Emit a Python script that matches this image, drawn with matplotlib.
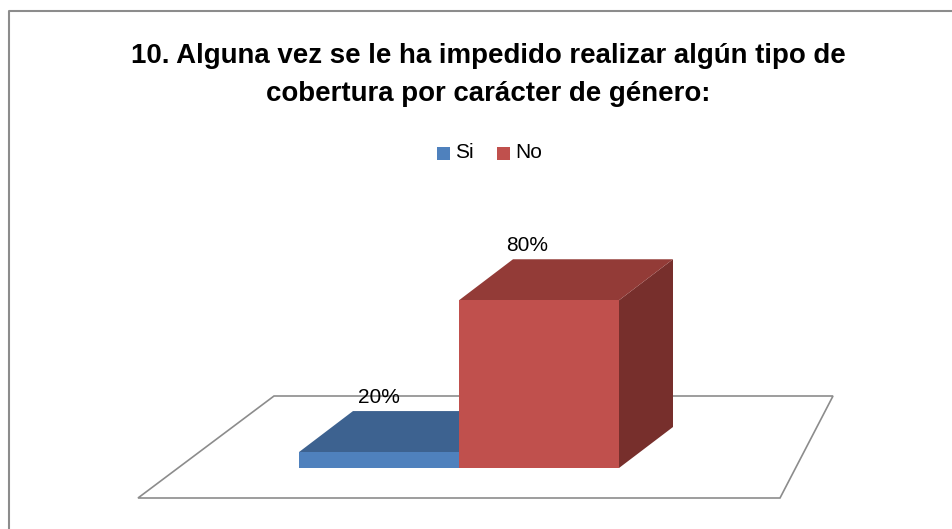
import matplotlib.pyplot as plt
from matplotlib.patches import Polygon

plt.rcParams['font.family'] = ['Liberation Sans', 'DejaVu Sans']

# Data
categories = ['Si', 'No']
values = [20, 80]
labels = ['20%', '80%']
front_colors = ['#4F81BD', '#C0504D']
top_colors = ['#3D6290', '#933B37']
side_colors = ['#30507A', '#772F2C']
title = '10. Alguna vez se le ha impedido realizar algún tipo de\ncobertura por carácter de género:'

W, H = 953, 529
fig = plt.figure(figsize=(W / 100, H / 100), dpi=100)
ax = fig.add_axes([0, 0, 1, 1])
ax.set_xlim(0, W)
ax.set_ylim(H, 0)
ax.axis('off')

# chart frame (only top and left visible)
ax.plot([9, 9, W], [H, 10.5, 10.5], color='#8c8c8c', lw=1.5, solid_capstyle='butt')

# value axis mapping (3D floor does not start at zero)
base_y = 468
axis_min = 13.7
px_per_unit = 2.53
bar_w = 160
bar_x0 = 299
dx, dy = 54, -41

def val_to_y(v):
    return base_y - (v - axis_min) * px_per_unit

# floor
floor = Polygon([(138, 498), (780, 498), (833, 396), (274, 396)], closed=True,
                facecolor='white', edgecolor='#8c8c8c', lw=1.2, zorder=1)
ax.add_patch(floor)

# bars
for i, (cat, v) in enumerate(zip(categories, values)):
    x0 = bar_x0 + i * bar_w
    x1 = x0 + bar_w
    yt = val_to_y(v)
    z = 2 + i
    top = Polygon([(x0, yt), (x1, yt), (x1 + dx, yt + dy), (x0 + dx, yt + dy)],
                  closed=True, facecolor=top_colors[i], edgecolor='none', zorder=z)
    side = Polygon([(x1, yt), (x1 + dx, yt + dy), (x1 + dx, base_y + dy), (x1, base_y)],
                   closed=True, facecolor=side_colors[i], edgecolor='none', zorder=z)
    front = Polygon([(x0, yt), (x1, yt), (x1, base_y), (x0, base_y)],
                    closed=True, facecolor=front_colors[i], edgecolor='none', zorder=z)
    ax.add_patch(side)
    ax.add_patch(top)
    ax.add_patch(front)
    ax.text(x0 + bar_w / 2 - 12 * i, yt + dy - 14, labels[i], ha='center', va='center',
            fontsize=15, color='black', zorder=10)

# title
ax.text(488, 75, title, ha='center', va='center', fontsize=19.9, fontweight='bold',
        linespacing=1.63, zorder=10)

# legend
leg_y = 153
items = [(437, 'Si'), (497, 'No')]
for (lx, name), c in zip(items, front_colors):
    ax.add_patch(Polygon([(lx, leg_y - 6.5), (lx + 13, leg_y - 6.5), (lx + 13, leg_y + 6.5),
                          (lx, leg_y + 6.5)], closed=True, facecolor=c, edgecolor='none'))
    ax.text(lx + 18, leg_y, name, ha='left', va='center', fontsize=15)

fig.savefig('out.png', dpi=100)
